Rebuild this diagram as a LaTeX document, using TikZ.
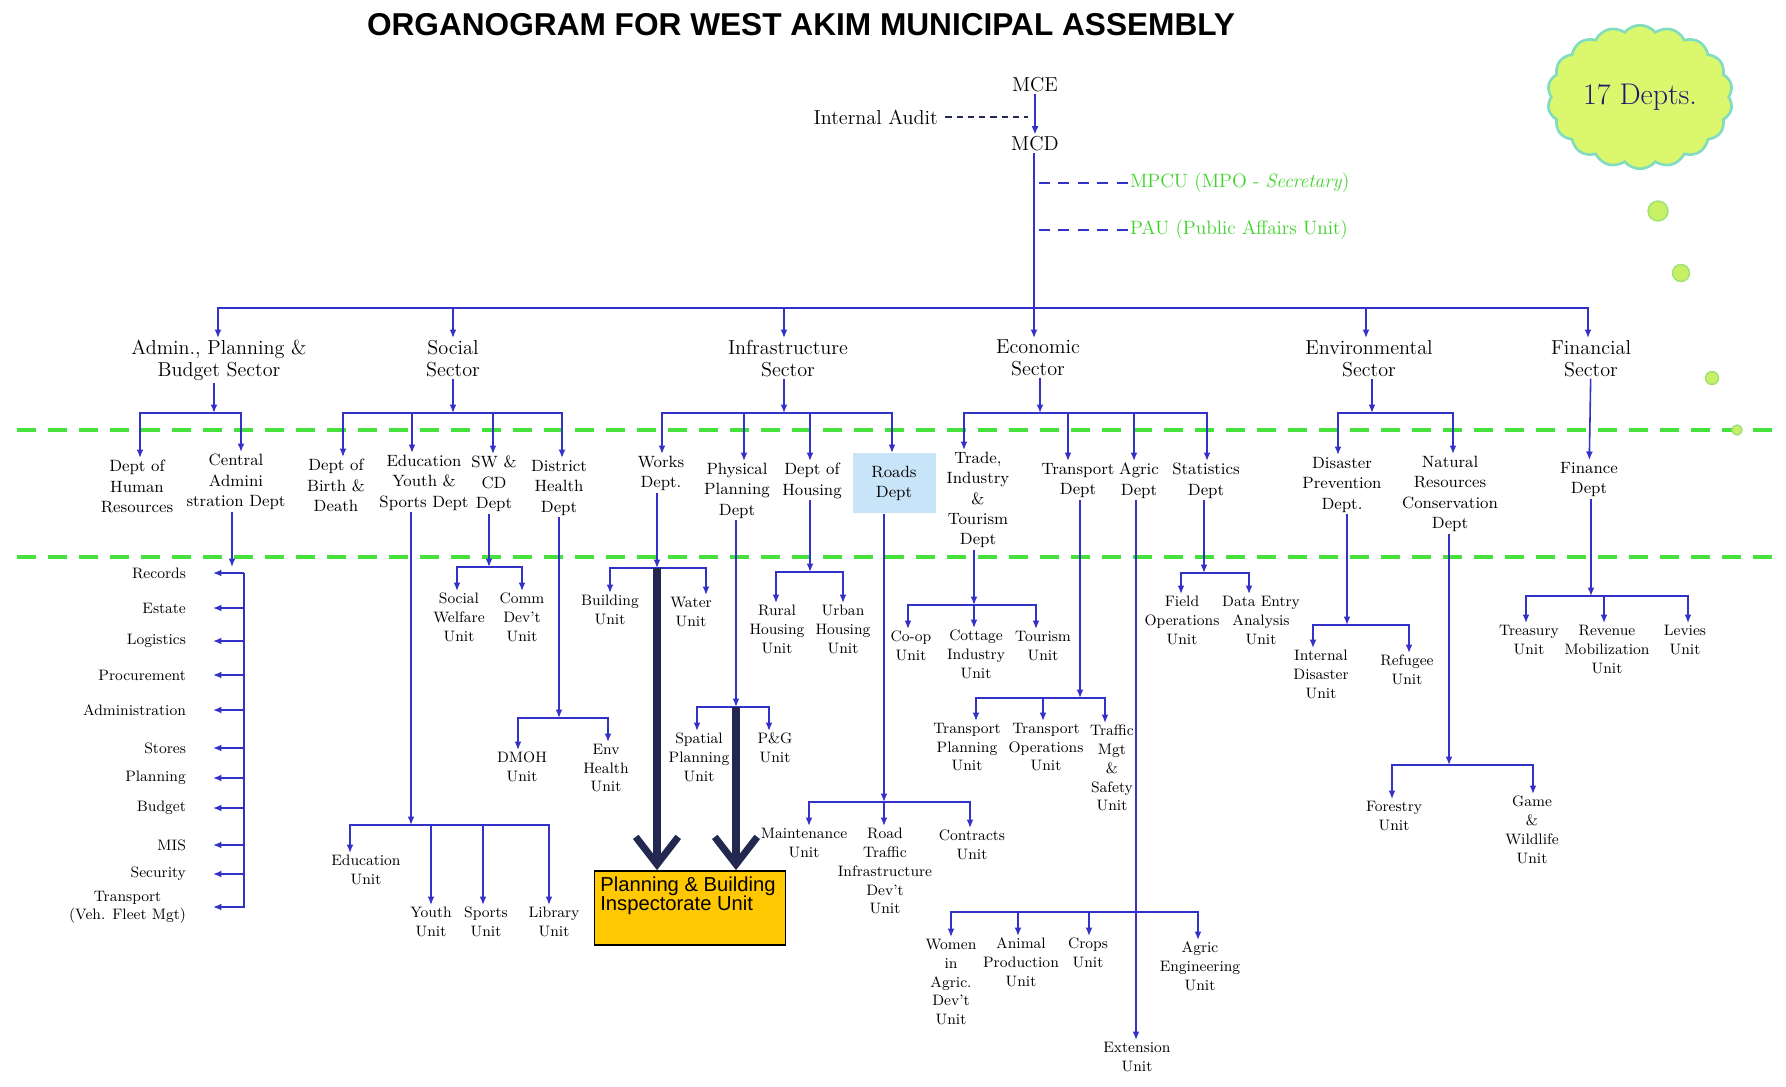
\documentclass[tikz,border=0pt]{standalone}
\usepackage{fontspec}
\usetikzlibrary{arrows.meta,shapes.symbols}
\newfontfamily\arialfont{Liberation Sans}
\definecolor{lineblue}{RGB}{50,50,200}
\definecolor{sepgreen}{RGB}{70,225,60}
\definecolor{txtgreen}{RGB}{60,210,40}
\definecolor{navy}{RGB}{35,40,80}
\definecolor{deptsnavy}{RGB}{25,25,110}
\definecolor{roadsblue}{RGB}{200,228,248}
\definecolor{boxgold}{RGB}{255,200,0}
\definecolor{cloudfill}{RGB}{218,247,110}
\definecolor{cloudline}{RGB}{130,220,190}
\definecolor{bubblefill}{RGB}{200,240,100}
\definecolor{bubbleline}{RGB}{155,225,120}
\tikzset{
conn/.style={draw=lineblue, line width=0.9pt},
arr/.style={conn, -{Latex[length=1.7mm,width=1.4mm]}},
bigarr/.style={draw=navy, line width=4pt, -{Straight Barb[length=0.55cm,width=0.85cm]}},
divider/.style={draw=sepgreen, line width=2pt, dash pattern=on 0.38cm off 0.24cm},
head/.style={inner sep=1pt, font=\fontsize{11.5}{13}\selectfont},
gtext/.style={text=txtgreen, inner sep=1pt, anchor=west, font=\fontsize{11}{13}\selectfont},
sector/.style={align=center, inner sep=1pt, anchor=north, font=\fontsize{11.5}{12.5}\selectfont},
dept/.style={align=center, inner sep=1pt, anchor=north, font=\fontsize{9.3}{11.6}\selectfont},
unit/.style={align=center, inner sep=1pt, anchor=north, font=\fontsize{8.6}{10.7}\selectfont},
listitem/.style={align=center, inner sep=1pt, anchor=east, font=\fontsize{8.6}{10.5}\selectfont}
}
\newcommand{\branch}[4]{%
  \coordinate (#1-bus) at (#2,#3);
  \draw[arr] (#1.south -| #1-bus) -- (#1-bus);
  \foreach \x/\c in {#4} \draw[arr] (#1-bus) -| (\c.north -| \x,0);}

\begin{document}
\begin{tikzpicture}[x=0.02cm, y=-0.02cm]
\useasboundingbox (0,0) rectangle (1786,1086);
\foreach \y in {430,557} \draw[divider] (17,\y) -- (1777,\y);

\node[font=\arialfont\bfseries\fontsize{18}{20}\selectfont] (title) at (801,25) {ORGANOGRAM FOR WEST AKIM MUNICIPAL ASSEMBLY};
\node[cloud, cloud puffs=18, cloud puff arc=100, aspect=1.35, draw=cloudline, line width=1.5pt, fill=cloudfill,
  minimum width=3.7cm, minimum height=2.7cm, text=deptsnavy, font=\fontsize{17}{20}\selectfont] (depts) at (1640,97) {17 Depts.};
\foreach \x/\y/\r in {1658/211/0.2,1681/273/0.17,1712/378/0.13,1737/430/0.1}
  \filldraw[fill=bubblefill, draw=bubbleline, line width=0.8pt] (\x,\y) circle [radius=\r cm];

\node[head] (mce) at (1035,85) {MCE};
\node[head] (mcd) at (1035,144) {MCD};
\node[head, anchor=east] (audit) at (940,117) {Internal Audit};
\node[gtext] (mpcu) at (1128,183) {MPCU (MPO - \textit{Secretary})};
\node[gtext] (pau) at (1128,230) {PAU (Public Affairs Unit)};
\draw[arr] (mce) -- (mcd);
\draw[draw=navy, line width=0.8pt, shorten <=3pt, shorten >=4pt, dash pattern=on 3.6pt off 2.8pt] (audit.east) -- (audit.east -| mce);
\foreach \n in {mpcu,pau}
  \draw[conn, line width=1.4pt, shorten <=2pt, dash pattern=on 0.22cm off 0.17cm] (\n.west -| mcd) -- (\n.west);

\coordinate (hub) at (1034,308);
\draw[conn] (mcd.south -| hub) -- (hub);
\node[sector] (admin) at (219,338) {Admin.,\ Planning \&\\Budget Sector};
\node[sector] (social) at (453,338) {Social\\Sector};
\node[sector] (infra) at (788,338) {Infrastructure\\Sector};
\node[sector] (econ) at (1038,338) {Economic\\Sector};
\node[sector] (env) at (1369,338) {Environmental\\Sector};
\node[sector] (finsec) at (1591,338) {Financial\\Sector};
\foreach \x/\s in {218/admin,453/social,784/infra,1034/econ,1366/env,1588/finsec}
  \draw[arr] (hub) -| (\s.north -| \x,0);

\node[dept] (hr) at (137,458) {Dept of\\Human\\Resources};
\node[dept] (cad) at (236,452) {Central\\Admini\\stration Dept};
\node[dept] (birth) at (336,457) {Dept of\\Birth \&\\Death};
\node[dept] (eys) at (424,453) {Education\\Youth \&\\Sports Dept};
\node[dept] (swcd) at (494,454) {SW \&\\CD\\Dept};
\node[dept] (dhd) at (559,458) {District\\Health\\Dept};
\node[dept] (works) at (661,454) {Works\\Dept.};
\node[dept] (ppd) at (737,461) {Physical\\Planning\\Dept};
\node[dept] (hous) at (812,461) {Dept of\\Housing};
\node[dept, fill=roadsblue, minimum width=1.66cm, minimum height=1.2cm] (roads) at (894,453) {Roads\\Dept};
\node[dept] (trade) at (978,450) {Trade,\\Industry\\\&\\Tourism\\Dept};
\node[dept] (transp) at (1078,461) {Transport\\Dept};
\node[dept] (agric) at (1139,461) {Agric\\Dept};
\node[dept] (stats) at (1206,461) {Statistics\\Dept};
\node[dept] (disas) at (1342,455) {Disaster\\Prevention\\Dept.};
\node[dept] (natres) at (1450,454) {Natural\\Resources\\Conservation\\Dept};
\node[dept] (fdept) at (1589,460) {Finance\\Dept};

\branch{admin}{214}{413}{140/hr,241/cad}
\branch{social}{453}{413}{343/birth,412/eys,493/swcd,562/dhd}
\branch{infra}{784}{413}{662/works,744/ppd,810/hous,892/roads}
\branch{econ}{1040}{413}{964/trade,1068/transp,1134/agric,1207/stats}
\branch{env}{1372}{413}{1338/disas,1453/natres}
\draw[arr] (finsec) -- (fdept);

\foreach \n/\y/\t in {rec/573/Records,est/608/Estate,logi/641/Logistics,proc/675/Procurement,
  adm/710/Administration,sto/748/Stores,plan/778/Planning,bud/808/Budget,mis/845/MIS,
  secu/874/Security,trn/907/{Transport\\(Veh. Fleet Mgt)}}
  \node[listitem] (\n) at (188,\y) {\t};
\coordinate (cad-in) at (232,567);
\coordinate (spine) at (244,573);
\draw[arr] (cad.south -| cad-in) -- (cad-in);
\foreach \c in {rec,est,logi,proc,adm,sto,plan,bud,mis,secu,trn}
  \draw[arr, shorten >=0.5cm] (spine) |- (\c.east);

\node[unit] (sw) at (459,591) {Social\\Welfare\\Unit};
\node[unit] (cd) at (522,591) {Comm\\Dev't\\Unit};
\node[unit] (dmoh) at (522,750) {DMOH\\Unit};
\node[unit] (envh) at (606,742) {Env\\Health\\Unit};
\node[unit] (edu) at (366,853) {Education\\Unit};
\node[unit] (youth) at (431,905) {Youth\\Unit};
\node[unit] (sports) at (486,905) {Sports\\Unit};
\node[unit] (lib) at (554,905) {Library\\Unit};
\branch{swcd}{489}{567}{457/sw,522/cd}
\branch{dhd}{559}{718}{518/dmoh,608/envh}
\branch{eys}{411}{825}{350/edu,431/youth,483/sports,549/lib}

\node[unit] (bld) at (610,593) {Building\\Unit};
\node[unit] (wat) at (691,595) {Water\\Unit};
\node[unit] (spa) at (699,731) {Spatial\\Planning\\Unit};
\node[unit] (pg) at (775,731) {P\&G\\Unit};
\node[unit] (rur) at (777,603) {Rural\\Housing\\Unit};
\node[unit] (urb) at (843,603) {Urban\\Housing\\Unit};
\node[unit] (mnt) at (804,826) {Maintenance\\Unit};
\node[unit] (rti) at (885,826) {Road\\Traffic\\Infrastructure\\Dev't\\Unit};
\node[unit] (con) at (972,828) {Contracts\\Unit};
\branch{works}{657}{568}{610/bld,706/wat}
\branch{ppd}{736}{707}{697/spa,769/pg}
\branch{hous}{810}{572}{776/rur,843/urb}
\branch{roads}{884}{802}{809/mnt,884/rti,970/con}

\node[draw=black, line width=1pt, fill=boxgold, minimum width=3.82cm, minimum height=1.48cm, inner sep=0pt] (pbi) at (690,908) {};
\node[anchor=north west, align=left, inner sep=0pt, font=\arialfont\fontsize{11.5}{11}\selectfont] (pbitext) at (600,876) {Planning \& Building\\Inspectorate Unit};
\draw[bigarr] (works-bus) -- (pbi.north -| works-bus);
\draw[bigarr] (ppd-bus) -- (pbi.north -| ppd-bus);

\node[unit] (coop) at (911,629) {Co-op\\Unit};
\node[unit] (cot) at (976,628) {Cottage\\Industry\\Unit};
\node[unit] (tour) at (1043,629) {Tourism\\Unit};
\node[unit] (tpu) at (967,721) {Transport\\Planning\\Unit};
\node[unit] (trops) at (1046,721) {Transport\\Operations\\Unit};
\node[unit] (tms) at (1112,723) {Traffic\\Mgt\\\&\\Safety\\Unit};
\node[unit] (wom) at (951,937) {Women\\in\\Agric.\\Dev't\\Unit};
\node[unit] (ani) at (1021,936) {Animal\\Production\\Unit};
\node[unit] (crp) at (1088,936) {Crops\\Unit};
\node[unit] (eng) at (1200,940) {Agric\\Engineering\\Unit};
\node[unit] (ext) at (1137,1040) {Extension\\Unit};
\node[unit] (fld) at (1182,594) {Field\\Operations\\Unit};
\node[unit] (dea) at (1261,594) {Data Entry\\Analysis\\Unit};
\branch{trade}{974}{605}{908/coop,974/cot,1036/tour}
\branch{transp}{1080}{698}{976/tpu,1043/trops,1105/tms}
\branch{stats}{1204}{573}{1181/fld,1249/dea}
\coordinate (agric-bus) at (1136,912);
\draw[arr] (agric.south -| agric-bus) -- (ext.north -| agric-bus);
\foreach \x/\c in {951/wom,1018/ani,1089/crp,1198/eng} \draw[arr] (agric-bus) -| (\c.north -| \x,0);

\node[unit] (idu) at (1321,648) {Internal\\Disaster\\Unit};
\node[unit] (ref) at (1407,653) {Refugee\\Unit};
\node[unit] (fore) at (1394,799) {Forestry\\Unit};
\node[unit] (game) at (1532,794) {Game\\\&\\Wildlife\\Unit};
\node[unit] (tre) at (1529,623) {Treasury\\Unit};
\node[unit] (rev) at (1607,623) {Revenue\\Mobilization\\Unit};
\node[unit] (lev) at (1685,623) {Levies\\Unit};
\branch{disas}{1347}{625}{1313/idu,1409/ref}
\branch{natres}{1449}{765}{1392/fore,1533/game}
\branch{fdept}{1591}{596}{1526/tre,1604/rev,1688/lev}
\end{tikzpicture}
\end{document}
